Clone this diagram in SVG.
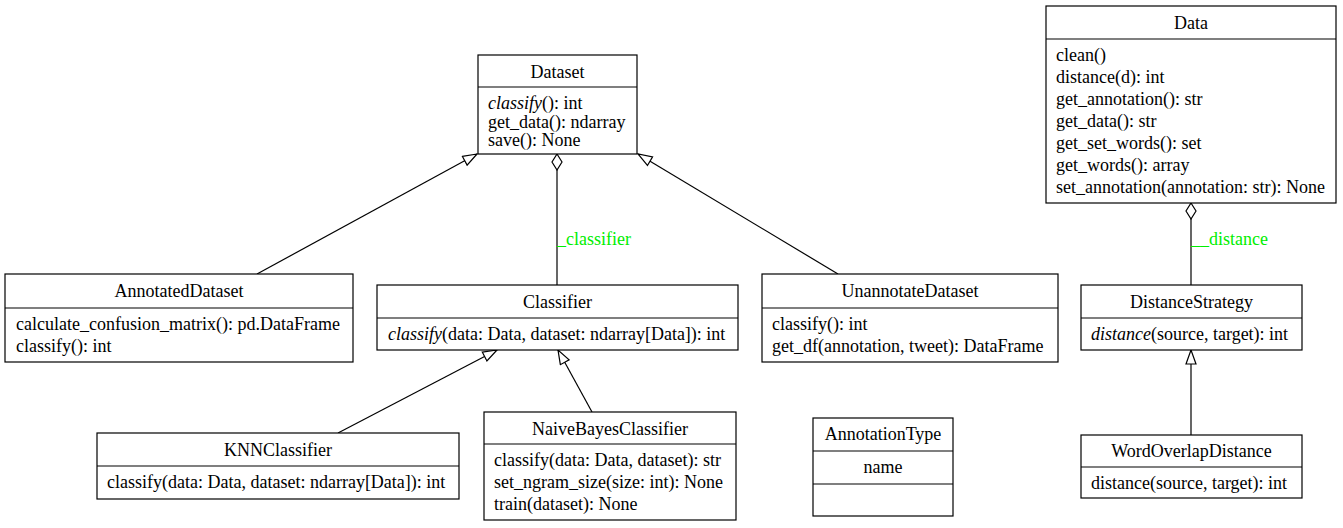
<svg xmlns="http://www.w3.org/2000/svg" width="1343" height="528" viewBox="0 0 1343 528">
<style>
text{font-family:"Liberation Serif","Times New Roman",serif;font-size:18px;fill:#000}
.c{text-anchor:middle}
.i{font-style:italic}
.box{fill:#fff;stroke:#000;stroke-width:1.2}
.div{stroke:#000;stroke-width:1.2}
.e{stroke:#000;stroke-width:1.2;fill:none}
.lbl{fill:#00ee00}
</style>
<defs>
<marker id="inh" markerUnits="userSpaceOnUse" markerWidth="16" markerHeight="14" refX="15" refY="6" orient="auto">
<path d="M1,1 L15,6 L1,11 Z" fill="#fff" stroke="#000" stroke-width="1.2"/>
</marker>
<marker id="agg" markerUnits="userSpaceOnUse" markerWidth="18" markerHeight="12" refX="1" refY="6" orient="auto">
<path d="M1,6 L9,1 L17,6 L9,11 Z" fill="#fff" stroke="#000" stroke-width="1.2"/>
</marker>
</defs>
<g id="connectors">
<line class="e" x1="257" y1="274" x2="477" y2="154" marker-end="url(#inh)"/>
<line class="e" x1="838" y1="274" x2="638" y2="154" marker-end="url(#inh)"/>
<line class="e" x1="557" y1="154" x2="557" y2="285" marker-start="url(#agg)"/>
<text class="lbl" x="557" y="245">_classifier</text>
<line class="e" x1="338" y1="433" x2="497" y2="350" marker-end="url(#inh)"/>
<line class="e" x1="592" y1="412" x2="558" y2="350" marker-end="url(#inh)"/>
<line class="e" x1="1191" y1="203" x2="1191" y2="285" marker-start="url(#agg)"/>
<text class="lbl" x="1191" y="245">__distance</text>
<line class="e" x1="1191" y1="435" x2="1191" y2="350" marker-end="url(#inh)"/>
</g>
<g id="Dataset">
<rect class="box" x="478" y="55" width="159" height="99"/>
<line class="div" x1="478" y1="87" x2="637" y2="87"/>
<text class="c" x="557.5" y="78">Dataset</text>
<text x="488" y="109"><tspan class="i">classify</tspan>(): int</text>
<text x="488" y="128">get_data(): ndarray</text>
<text x="488" y="146">save(): None</text>
</g>
<g id="Data">
<rect class="box" x="1046" y="6" width="290" height="197"/>
<line class="div" x1="1046" y1="39" x2="1336" y2="39"/>
<text class="c" x="1191" y="29">Data</text>
<text x="1056" y="61">clean()</text>
<text x="1056" y="83">distance(d): int</text>
<text x="1056" y="105">get_annotation(): str</text>
<text x="1056" y="127">get_data(): str</text>
<text x="1056" y="149">get_set_words(): set</text>
<text x="1056" y="171">get_words(): array</text>
<text x="1056" y="193">set_annotation(annotation: str): None</text>
</g>
<g id="AnnotatedDataset">
<rect class="box" x="5" y="274" width="348" height="88"/>
<line class="div" x1="5" y1="308" x2="353" y2="308"/>
<text class="c" x="179" y="297">AnnotatedDataset</text>
<text x="16" y="330">calculate_confusion_matrix(): pd.DataFrame</text>
<text x="16" y="352">classify(): int</text>
</g>
<g id="Classifier">
<rect class="box" x="377" y="285" width="361" height="65"/>
<line class="div" x1="377" y1="318" x2="738" y2="318"/>
<text class="c" x="557.5" y="308">Classifier</text>
<text x="388" y="340"><tspan class="i">classify</tspan>(data: Data, dataset: ndarray[Data]): int</text>
</g>
<g id="UnannotateDataset">
<rect class="box" x="762" y="274" width="296" height="88"/>
<line class="div" x1="762" y1="308" x2="1058" y2="308"/>
<text class="c" x="910" y="297">UnannotateDataset</text>
<text x="772" y="330">classify(): int</text>
<text x="772" y="352">get_df(annotation, tweet): DataFrame</text>
</g>
<g id="DistanceStrategy">
<rect class="box" x="1081" y="285" width="221" height="65"/>
<line class="div" x1="1081" y1="318" x2="1302" y2="318"/>
<text class="c" x="1191.5" y="308">DistanceStrategy</text>
<text x="1091" y="340"><tspan class="i">distance</tspan>(source, target): int</text>
</g>
<g id="WordOverlapDistance">
<rect class="box" x="1081" y="435" width="221" height="63"/>
<line class="div" x1="1081" y1="467" x2="1302" y2="467"/>
<text class="c" x="1191.5" y="457">WordOverlapDistance</text>
<text x="1091" y="489">distance(source, target): int</text>
</g>
<g id="KNNClassifier">
<rect class="box" x="97" y="433" width="362" height="66"/>
<line class="div" x1="97" y1="466" x2="459" y2="466"/>
<text class="c" x="278" y="456">KNNClassifier</text>
<text x="107" y="488">classify(data: Data, dataset: ndarray[Data]): int</text>
</g>
<g id="NaiveBayesClassifier">
<rect class="box" x="484" y="412" width="252" height="108"/>
<line class="div" x1="484" y1="444" x2="736" y2="444"/>
<text class="c" x="610" y="435">NaiveBayesClassifier</text>
<text x="494" y="466">classify(data: Data, dataset): str</text>
<text x="494" y="488">set_ngram_size(size: int): None</text>
<text x="494" y="510">train(dataset): None</text>
</g>
<g id="AnnotationType">
<rect class="box" x="813" y="418" width="140" height="98"/>
<line class="div" x1="813" y1="451" x2="953" y2="451"/>
<line class="div" x1="813" y1="484" x2="953" y2="484"/>
<text class="c" x="883" y="440">AnnotationType</text>
<text class="c" x="883" y="473">name</text>
</g>
</svg>
